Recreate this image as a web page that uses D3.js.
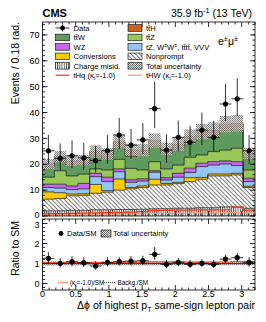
<!DOCTYPE html>
<html><head><meta charset="utf-8">
<script src="https://cdn.jsdelivr.net/npm/d3@7"></script>
<style>body{margin:0;background:#fff}svg{display:block}text{font-family:"Liberation Sans",Arial,sans-serif;fill:#000}</style>
</head><body><svg id="c" width="266" height="322"></svg>
<script>
// ---------------- data ----------------
const binEdges = [0,0.178,0.356,0.533,0.711,0.889,1.067,1.244,1.422,1.6,1.778,1.956,2.133,2.311,2.489,2.667,2.844,3.022,3.2];
const chargeMisid = [2.0,2.0,2.2,2.2,2.4,2.4,2.5,2.5,2.6,2.8,2.8,3.0,3.0,3.2,3.2,3.5,3.5,3.0];
const nonprompt   = [4.5,4.8,5.6,5.8,6.4,6.8,7.5,8.0,8.4,9.2,9.2,9.5,10.3,11.0,12.3,12.0,12.4,8.0];
const conversions = [2.8,2.2,0.7,0.6,3.4,0.6,4.3,0.5,0.6,2.2,0.6,0.5,1.5,0.7,0.7,0.7,0.6,0.5];
const tZother     = [1.7,1.8,1.7,1.9,3.0,3.5,2.8,2.0,1.9,2.7,1.3,2.0,2.0,4.2,3.5,3.9,3.0,1.8];
const wz          = [1.3,1.5,1.4,2.1,1.3,1.7,1.1,1.0,0.9,0.6,0.9,1.5,1.7,1.3,1.3,1.2,1.5,1.3];
const ttZ         = [2.7,5.2,3.9,3.6,1.7,2.8,3.7,4.4,3.4,3.5,3.4,3.2,4.2,3.2,3.9,4.2,5.2,3.2];
const ttW         = [4.1,3.8,4.2,3.8,5.0,4.5,4.3,4.6,6.1,5.8,6.0,6.5,6.0,7.1,6.4,7.5,7.0,4.8];
const ttH         = [1.0,1.6,1.6,1.6,1.7,1.7,2.5,2.5,1.6,2.3,1.7,1.6,2.0,1.9,1.9,2.5,2.6,1.6];
const totalUnc    = [2.0,2.2,2.0,2.0,2.4,2.2,2.7,2.4,2.4,2.8,2.4,2.6,2.8,3.0,3.0,3.2,3.2,2.2];
const tHq         = [0.9,0.9,1.0,1.1,1.2,1.3,1.4,1.5,1.7,2.2,2.2,2.3,2.3,2.4,2.4,2.4,3.4,2.3];
const tHW         = [0.5,0.5,0.6,0.6,0.7,0.7,0.8,0.8,0.9,1.0,1.0,1.1,1.1,1.2,1.2,1.3,1.3,1.2];
const dataVals    = [25.2,22.3,23.3,22.5,21.4,25.2,31.3,27.4,29.4,41.5,25.5,30.4,28.5,33.2,30.4,43.3,45.3,25.2];
const dataErrUp   = [6.1,5.8,5.9,5.8,5.7,6.1,6.6,6.3,6.5,10.5,6.1,6.5,6.4,6.8,6.5,7.8,7.9,6.1];
const dataErrDn   = [5.0,4.7,4.8,4.7,4.6,5.0,5.5,5.2,5.4,7.5,5.0,5.5,5.3,5.7,5.5,6.5,6.7,5.0];
const ratioVals   = [1.26,1.01,1.09,1.04,0.875,1.06,1.09,1.12,1.14,1.46,0.96,1.06,0.96,1.01,0.96,1.22,1.29,1.06];
const ratioAlt    = [1.05,1.04,1.05,1.05,1.05,1.05,1.05,1.06,1.07,1.08,1.08,1.08,1.07,1.07,1.07,1.07,1.09,1.09];
const ratioBkg    = [0.98,0.98,0.98,0.98,0.98,0.98,0.98,0.98,0.98,0.98,0.98,0.98,0.98,0.98,0.98,0.98,0.98,0.98];
const yTicksMain  = [0,10,20,30,40,50,60,70];
const yTicksRatio = [0,1,2,3];
const xTicks      = [0,0.5,1,1.5,2,2.5,3];

// ---------------- setup ----------------
const svg = d3.select("#c");
const L = 42.5, R = 255, T = 22, B = 216, RT = 219, RB = 290;
const x = d3.scaleLinear([0,3.2],[L,R]);
const y = d3.scaleLinear([0,75],[B,T]);
const yr = d3.scaleLinear([-0.325,3.225],[RB,RT]);
const nb = dataVals.length;
const defs = svg.append("defs");
function pat(id, w, h, build, tr){
  const p = defs.append("pattern").attr("id",id).attr("width",w).attr("height",h).attr("patternUnits","userSpaceOnUse");
  if(tr) p.attr("patternTransform",tr);
  build(p);
}
pat("diag",3,3,p=>{p.append("rect").attr("width",3).attr("height",3).attr("fill","#fff");
  p.append("line").attr("x1",0.5).attr("x2",0.5).attr("y1",0).attr("y2",3).attr("stroke","#444").attr("stroke-width",0.7);},"rotate(-45)");
pat("vert",2.2,4,p=>{p.append("rect").attr("width",2.2).attr("height",4).attr("fill","#fff");
  p.append("line").attr("x1",0.5).attr("x2",0.5).attr("y1",0).attr("y2",4).attr("stroke","#333").attr("stroke-width",0.8);});
pat("cross",2,2,p=>{p.append("rect").attr("width",2).attr("height",2).attr("fill","#d8d8d8");
  p.append("rect").attr("width",1).attr("height",1).attr("fill","#777");
  p.append("rect").attr("x",1).attr("y",1).attr("width",1).attr("height",1).attr("fill","#777");});

const layers = [
  {v:chargeMisid, fill:"url(#vert)"},
  {v:nonprompt, fill:"url(#diag)"},
  {v:conversions, fill:"#ffcc00"},
  {v:tZother, fill:"#94c6f5"},
  {v:wz, fill:"#c866f0"},
  {v:ttZ, fill:"#98c858"},
  {v:ttW, fill:"#5f9a5f"},
  {v:ttH, fill:"#c8641e"}
];
let cum = new Array(nb).fill(0);
layers.forEach(l=>{ l.lo = cum.slice(); cum = cum.map((c,i)=>c+l.v[i]); l.hi = cum.slice(); });
const total = cum;
const pts = arr => binEdges.map((e,i)=>[e, arr[Math.min(i,nb-1)]]);
const area = d3.area().curve(d3.curveStepAfter).x(d=>x(d[0])).y0(d=>y(d[1])).y1(d=>y(d[2]));
const line = (ys) => d3.line().curve(d3.curveStepAfter).x(d=>x(d[0])).y(d=>ys(d[1]));

const gMain = svg.append("g");
layers.forEach(l=>{
  const p = binEdges.map((e,i)=>[e, l.lo[Math.min(i,nb-1)], l.hi[Math.min(i,nb-1)]]);
  gMain.append("path").attr("d",area(p)).attr("fill",l.fill).attr("stroke","none");
});
layers.forEach(l=>{
  gMain.append("path").attr("d",line(y)(pts(l.hi))).attr("fill","none").attr("stroke","#111").attr("stroke-width",0.7);
});
// uncertainty band
for(let i=0;i<nb;i++){
  gMain.append("rect").attr("x",x(binEdges[i])).attr("width",x(binEdges[i+1])-x(binEdges[i]))
    .attr("y",y(total[i]+totalUnc[i])).attr("height",y(total[i]-totalUnc[i])-y(total[i]+totalUnc[i]))
    .attr("fill","url(#cross)").attr("opacity",0.85);
}
// signal lines
gMain.append("path").attr("d",line(y)(pts(tHW))).attr("fill","none").attr("stroke","#ff9977").attr("stroke-width",1);
gMain.append("path").attr("d",line(y)(pts(tHq))).attr("fill","none").attr("stroke","#ff3311").attr("stroke-width",1.2);
// data
for(let i=0;i<nb;i++){
  const cx = x((binEdges[i]+binEdges[i+1])/2), cy = y(dataVals[i]);
  gMain.append("line").attr("x1",cx).attr("x2",cx).attr("y1",y(dataVals[i]+dataErrUp[i])).attr("y2",y(dataVals[i]-dataErrDn[i])).attr("stroke","#000").attr("stroke-width",0.8);
  gMain.append("line").attr("x1",x(binEdges[i])).attr("x2",x(binEdges[i+1])).attr("y1",cy).attr("y2",cy).attr("stroke","#000").attr("stroke-width",0.8);
  gMain.append("circle").attr("cx",cx).attr("cy",cy).attr("r",2.6).attr("fill","#000");
}

// ---------------- ratio panel ----------------
const gR = svg.append("g");
for(let i=0;i<nb;i++){
  const u = totalUnc[i]/total[i];
  gR.append("rect").attr("x",x(binEdges[i])).attr("width",x(binEdges[i+1])-x(binEdges[i]))
    .attr("y",yr(1+u)).attr("height",yr(1-u)-yr(1+u)).attr("fill","url(#cross)").attr("opacity",0.8);
}
gR.append("line").attr("x1",x(0)).attr("x2",x(3.2)).attr("y1",yr(1)).attr("y2",yr(1)).attr("stroke","#1530e0").attr("stroke-width",1.2);
gR.append("path").attr("d",line(yr)(pts(ratioBkg))).attr("fill","none").attr("stroke","#333").attr("stroke-width",0.9).attr("stroke-dasharray","1,1");
gR.append("path").attr("d",line(yr)(pts(ratioAlt))).attr("fill","none").attr("stroke","#ff4422").attr("stroke-width",1.2);
for(let i=0;i<nb;i++){
  const cx = x((binEdges[i]+binEdges[i+1])/2), cy = yr(ratioVals[i]);
  const eu = ratioVals[i]*dataErrUp[i]/dataVals[i], ed = ratioVals[i]*dataErrDn[i]/dataVals[i];
  gR.append("line").attr("x1",cx).attr("x2",cx).attr("y1",yr(ratioVals[i]+eu)).attr("y2",yr(ratioVals[i]-ed)).attr("stroke","#000").attr("stroke-width",0.8);
  gR.append("line").attr("x1",x(binEdges[i])).attr("x2",x(binEdges[i+1])).attr("y1",cy).attr("y2",cy).attr("stroke","#000").attr("stroke-width",0.8);
  gR.append("circle").attr("cx",cx).attr("cy",cy).attr("r",2.6).attr("fill","#000");
}

// ---------------- frames & ticks ----------------
function frame(top,bot,ys,majY,minY){
  const g = svg.append("g").attr("stroke","#000").attr("stroke-width",0.8);
  g.append("rect").attr("x",L).attr("y",top).attr("width",R-L).attr("height",bot-top).attr("fill","none");
  majY.forEach(v=>{const yy=ys(v); g.append("line").attr("x1",L).attr("x2",L+5).attr("y1",yy).attr("y2",yy);
    g.append("line").attr("x1",R).attr("x2",R-5).attr("y1",yy).attr("y2",yy);});
  minY.forEach(v=>{const yy=ys(v); if(yy<top||yy>bot) return; g.append("line").attr("x1",L).attr("x2",L+2.5).attr("y1",yy).attr("y2",yy);
    g.append("line").attr("x1",R).attr("x2",R-2.5).attr("y1",yy).attr("y2",yy);});
  d3.range(0,3.21,0.1).forEach(v=>{
    const xx = x(v); const major = Math.abs(v*2-Math.round(v*2))<1e-6; const len = major?5:2.5;
    g.append("line").attr("x1",xx).attr("x2",xx).attr("y1",bot).attr("y2",bot-len);
    g.append("line").attr("x1",xx).attr("x2",xx).attr("y1",top).attr("y2",top+len);
  });
}
frame(T,B,y,yTicksMain,d3.range(0,75,2));
frame(RT,RB,yr,yTicksRatio,d3.range(-0.2,3.25,0.2));

const tick = svg.append("g").attr("font-size",9);
yTicksMain.forEach(v=>tick.append("text").attr("x",39.5).attr("y",v===0 ? y(v)-1.5 : y(v)).attr("dy","0.35em").attr("text-anchor","end").text(v));
yTicksRatio.forEach(v=>tick.append("text").attr("x",39.5).attr("y",v===3 ? yr(v)+1.5 : yr(v)).attr("dy","0.35em").attr("text-anchor","end").text(v));
xTicks.forEach(v=>tick.append("text").attr("x",x(v)).attr("y",297.3).attr("text-anchor","middle").text(v));

// ---------------- texts ----------------
function rich(sel, parts, size){
  let shift = 0;
  parts.forEach(([t,m])=>{
    const ts = sel.append("tspan").text(t);
    const target = m==="sup" ? -0.38*size : m==="sub" ? 0.28*size : 0;
    if(target-shift!==0) ts.attr("dy", target-shift);
    shift = target;
    if(m!=="n") ts.attr("font-size", size*0.7);
  });
  return sel;
}
svg.append("text").attr("x",L).attr("y",16.5).attr("font-size",11).attr("font-weight","bold").text("CMS");
rich(svg.append("text").attr("x",252).attr("y",17).attr("font-size",10.5).attr("text-anchor","end"),
  [["35.9 fb","n"],["-1","sup"],[" (13 TeV)","n"]],10.5);
rich(svg.append("text").attr("x",218).attr("y",45).attr("font-size",10.5),
  [["e","n"],["±","sup"],["μ","n"],["±","sup"]],10.5);
svg.append("text").attr("transform","translate(18.5,22) rotate(-90)").attr("text-anchor","end").attr("font-size",10.5).text("Events / 0.18 rad.");
svg.append("text").attr("transform","translate(18.5,221) rotate(-90)").attr("text-anchor","end").attr("font-size",10.5).text("Ratio to SM");
rich(svg.append("text").attr("x",R).attr("y",309.3).attr("font-size",10.5).attr("text-anchor","end"),
  [["Δϕ of highest p","n"],["T","sub"],[" same-sign lepton pair","n"]],10.5);

// ---------------- legend ----------------
const lg = svg.append("g");
const fs = 7.6;
const rowY = i => 28 + i*9.45;
const legL = [
  {type:"data", parts:[["Data","n"]]},
  {type:"box", fill:"#5f9a5f", parts:[["tt\u0304W","n"]]},
  {type:"box", fill:"#c866f0", parts:[["WZ","n"]]},
  {type:"box", fill:"#ffcc00", parts:[["Conversions","n"]]},
  {type:"box", fill:"url(#vert)", parts:[["Charge misid.","n"]]},
  {type:"line", color:"#ff3311", parts:[["tHq (κ","n"],["t","sub"],["=-1.0)","n"]]}
];
const legR = [
  {type:"box", fill:"#c8641e", parts:[["tt\u0304H","n"]]},
  {type:"box", fill:"#98c858", parts:[["tt\u0304Z","n"]]},
  {type:"box", fill:"#94c6f5", parts:[["tZ, W","n"],["±","sup"],["W","n"],["±","sup"],[", tt\u0304tt\u0304, VVV","n"]]},
  {type:"box", fill:"url(#diag)", parts:[["Nonprompt","n"]]},
  {type:"box", fill:"url(#cross)", parts:[["Total uncertainty","n"]]},
  {type:"line", color:"#ff9977", parts:[["tHW (κ","n"],["t","sub"],["=-1.0)","n"]]}
];
function drawLeg(items, x0, tx){
  items.forEach((it,i)=>{
    const cy = rowY(i);
    if(it.type==="box") lg.append("rect").attr("x",x0).attr("y",cy-3.3).attr("width",14).attr("height",6.6).attr("fill",it.fill).attr("stroke","#000").attr("stroke-width",0.6);
    if(it.type==="line") lg.append("line").attr("x1",x0).attr("x2",x0+14).attr("y1",cy).attr("y2",cy).attr("stroke",it.color).attr("stroke-width",1.2);
    if(it.type==="data"){
      lg.append("line").attr("x1",x0).attr("x2",x0+14).attr("y1",cy).attr("y2",cy).attr("stroke","#000").attr("stroke-width",0.8);
      lg.append("line").attr("x1",x0+7).attr("x2",x0+7).attr("y1",cy-3.5).attr("y2",cy+3.5).attr("stroke","#000").attr("stroke-width",0.8);
      lg.append("circle").attr("cx",x0+7).attr("cy",cy).attr("r",2.4).attr("fill","#000");
    }
    rich(lg.append("text").attr("x",tx).attr("y",cy).attr("dy","0.36em").attr("font-size",fs), it.parts, fs);
  });
}
drawLeg(legL, 55.5, 73.5);
drawLeg(legR, 128, 146);

// ratio legend
const rl = svg.append("g");
const fs2 = 6.3;
rl.append("circle").attr("cx",61).attr("cy",233.5).attr("r",2.4).attr("fill","#000");
rl.append("text").attr("x",67).attr("y",233.5).attr("dy","0.36em").attr("font-size",fs).text("Data/SM");
rl.append("rect").attr("x",101).attr("y",230).attr("width",10).attr("height",7).attr("fill","url(#cross)").attr("stroke","#000").attr("stroke-width",0.6);
rl.append("text").attr("x",113).attr("y",233.5).attr("dy","0.36em").attr("font-size",fs).text("Total uncertainty");
rl.append("line").attr("x1",58).attr("x2",68).attr("y1",282.5).attr("y2",282.5).attr("stroke","#ff9977").attr("stroke-width",1.2);
rich(rl.append("text").attr("x",70).attr("y",282.5).attr("dy","0.36em").attr("font-size",fs2),[["(κ","n"],["t","sub"],["=-1.0)/SM","n"]],fs2);
rl.append("line").attr("x1",102).attr("x2",115).attr("y1",282.5).attr("y2",282.5).attr("stroke","#333").attr("stroke-width",0.9).attr("stroke-dasharray","1,1");
rl.append("text").attr("x",117.5).attr("y",282.5).attr("dy","0.36em").attr("font-size",fs2).text("Backg./SM");
</script></body></html>
